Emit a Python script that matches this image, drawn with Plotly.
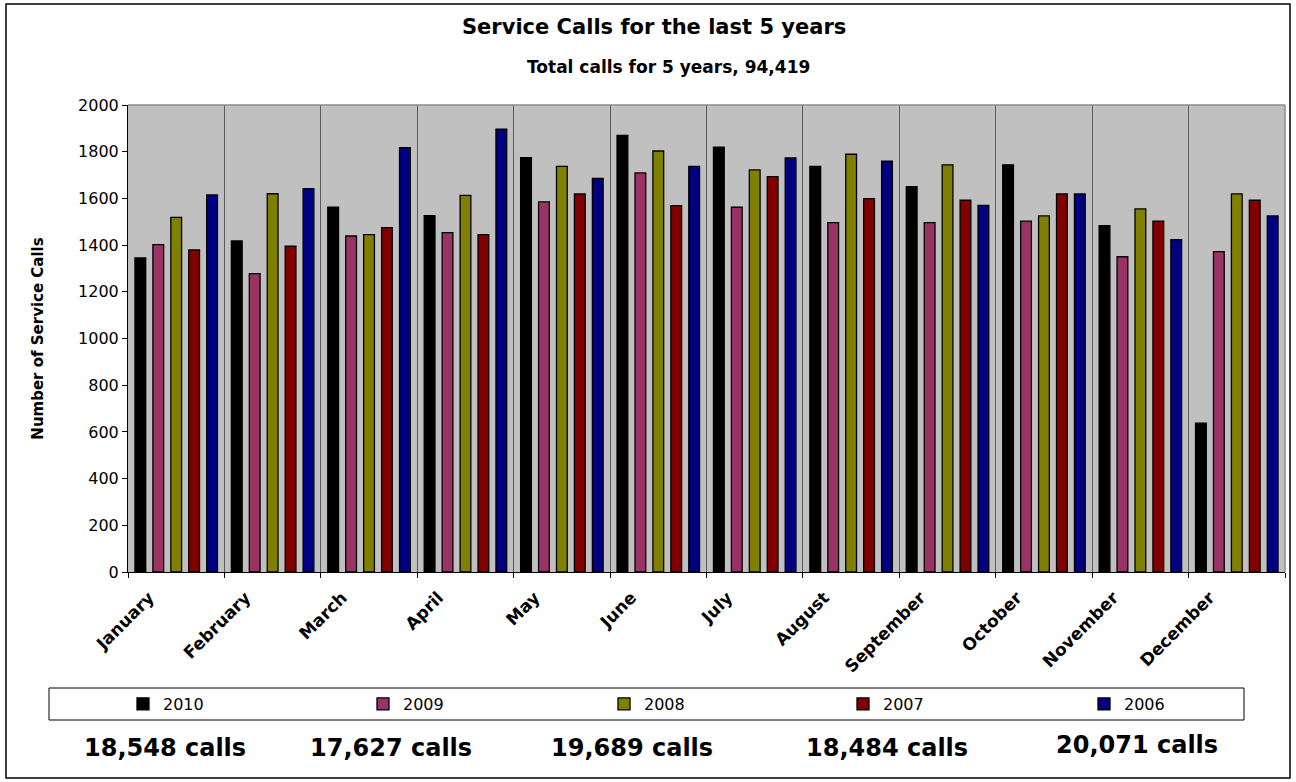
import plotly.graph_objects as go

# ---------------- data ----------------
months = ["January", "February", "March", "April", "May", "June", "July",
          "August", "September", "October", "November", "December"]
years = ["2010", "2009", "2008", "2007", "2006"]
calls_2010 = [1345, 1418, 1563, 1526, 1775, 1870, 1819, 1737, 1650, 1744, 1483, 637]
calls_2009 = [1402, 1278, 1439, 1453, 1585, 1709, 1562, 1496, 1496, 1503, 1350, 1372]
calls_2008 = [1519, 1620, 1445, 1613, 1737, 1803, 1722, 1789, 1744, 1525, 1555, 1619]
calls_2007 = [1379, 1395, 1475, 1445, 1619, 1569, 1693, 1599, 1592, 1619, 1503, 1592]
calls_2006 = [1615, 1642, 1817, 1897, 1686, 1737, 1773, 1759, 1570, 1619, 1423, 1525]
year_totals = [18548, 17627, 19689, 18484, 20071]
grand_total = 94419
y_ticks = [0, 200, 400, 600, 800, 1000, 1200, 1400, 1600, 1800, 2000]

series = [calls_2010, calls_2009, calls_2008, calls_2007, calls_2006]
colors = ["#000000", "#993366", "#808000", "#800000", "#000080"]

# ---------------- geometry (pixels) ----------------
W, H = 1296, 782
PL, PR, PT, PB = 128, 1285, 105, 572   # plot area edges


def px_x(x):
    return (x - PL) / (PR - PL)


def px_y(y):
    return (PB - y) / (PB - PT)


FONT = "DejaVu Sans, Liberation Sans, Arial, sans-serif"

legend_ids = ["legend", "legend2", "legend3", "legend4", "legend5"]
legend_sym_x = [143, 383, 624, 863, 1104]   # symbol centres (px)

fig = go.Figure()
for yr, vals, col, lid in zip(years, series, colors, legend_ids):
    fig.add_trace(go.Bar(
        name=yr, x=months, y=vals, legend=lid,
        marker=dict(color=col, line=dict(color="#000000", width=1.3)),
    ))

fig.update_layout(
    width=W, height=H,
    margin=dict(l=PL, r=W - PR, t=PT, b=H - PB, pad=0),
    paper_bgcolor="white",
    plot_bgcolor="#C0C0C0",
    barmode="group",
    bargap=0.07,
    bargroupgap=0.4,
    font=dict(family=FONT, color="#000000", size=16),
    showlegend=True,
)
for lid, sx in zip(legend_ids, legend_sym_x):
    fig.update_layout({lid: dict(
        orientation="h",
        x=px_x(sx - 20), xanchor="left",
        y=px_y(704), yanchor="middle",
        bgcolor="rgba(0,0,0,0)",
        borderwidth=0,
        font=dict(family=FONT, size=16, color="#000000"),
    )})

fig.update_xaxes(
    type="category",
    tickson="boundaries",
    ticks="outside", ticklen=5, tickcolor="#000000", tickwidth=1,
    tickangle=-45,
    ticklabelshift=-27,
    ticklabelstandoff=8,
    tickfont=dict(family=FONT, size=17, color="#000000", weight="bold"),
    showgrid=True, gridcolor="#5A5A5A", gridwidth=1,
    showline=True, linecolor="#000000", linewidth=1,
    range=[-0.5, 11.5],
    fixedrange=True,
)
fig.update_yaxes(
    range=[0, 2000],
    tickmode="array", tickvals=y_ticks, ticktext=[str(v) for v in y_ticks],
    ticks="outside", ticklen=5, tickcolor="#000000", tickwidth=1,
    tickfont=dict(family=FONT, size=16, color="#000000"),
    showgrid=False, zeroline=False,
    showline=True, linecolor="#000000", linewidth=1,
    title=dict(text="Number of Service Calls", standoff=30,
               font=dict(family=FONT, size=15, color="#000000", weight="bold")),
    fixedrange=True,
)

shapes = []
# outer chart border
shapes.append(dict(type="rect", xref="paper", yref="paper",
                   x0=px_x(6), x1=px_x(1290), y0=px_y(778), y1=px_y(4),
                   line=dict(color="#000000", width=1.5), layer="below"))
# plot area top & right edges
shapes.append(dict(type="line", xref="paper", yref="paper", x0=0, x1=1, y0=1, y1=1,
                   line=dict(color="#8C8C8C", width=1.5), layer="above"))
shapes.append(dict(type="line", xref="paper", yref="paper", x0=1, x1=1, y0=0, y1=1,
                   line=dict(color="#8C8C8C", width=1.5), layer="above"))
# legend box
shapes.append(dict(type="rect", xref="paper", yref="paper",
                   x0=px_x(49), x1=px_x(1244), y0=px_y(720), y1=px_y(688),
                   line=dict(color="#000000", width=1), layer="below"))
fig.update_layout(shapes=shapes)

annotations = [
    dict(text="Service Calls for the last 5 years", xref="paper", yref="paper",
         x=px_x(654), y=px_y(27), xanchor="center", yanchor="middle", showarrow=False,
         font=dict(family=FONT, size=21, color="#000000", weight="bold")),
    dict(text=f"Total calls for 5 years, {grand_total:,}", xref="paper", yref="paper",
         x=px_x(668), y=px_y(67), xanchor="center", yanchor="middle", showarrow=False,
         font=dict(family=FONT, size=17, color="#000000", weight="bold")),
]
calls_x = [165, 391, 632, 887, 1137]
calls_y = [748, 748, 748, 748, 745]
for tot, cx, cy in zip(year_totals, calls_x, calls_y):
    annotations.append(dict(
        text=f"{tot:,} calls", xref="paper", yref="paper",
        x=px_x(cx), y=px_y(cy), xanchor="center", yanchor="middle", showarrow=False,
        font=dict(family=FONT, size=24, color="#000000", weight="bold")))
fig.update_layout(annotations=annotations)

fig.write_html("out.html", config={"displayModeBar": False},
               post_script="document.body.style.margin='0';document.body.style.overflow='hidden';")
